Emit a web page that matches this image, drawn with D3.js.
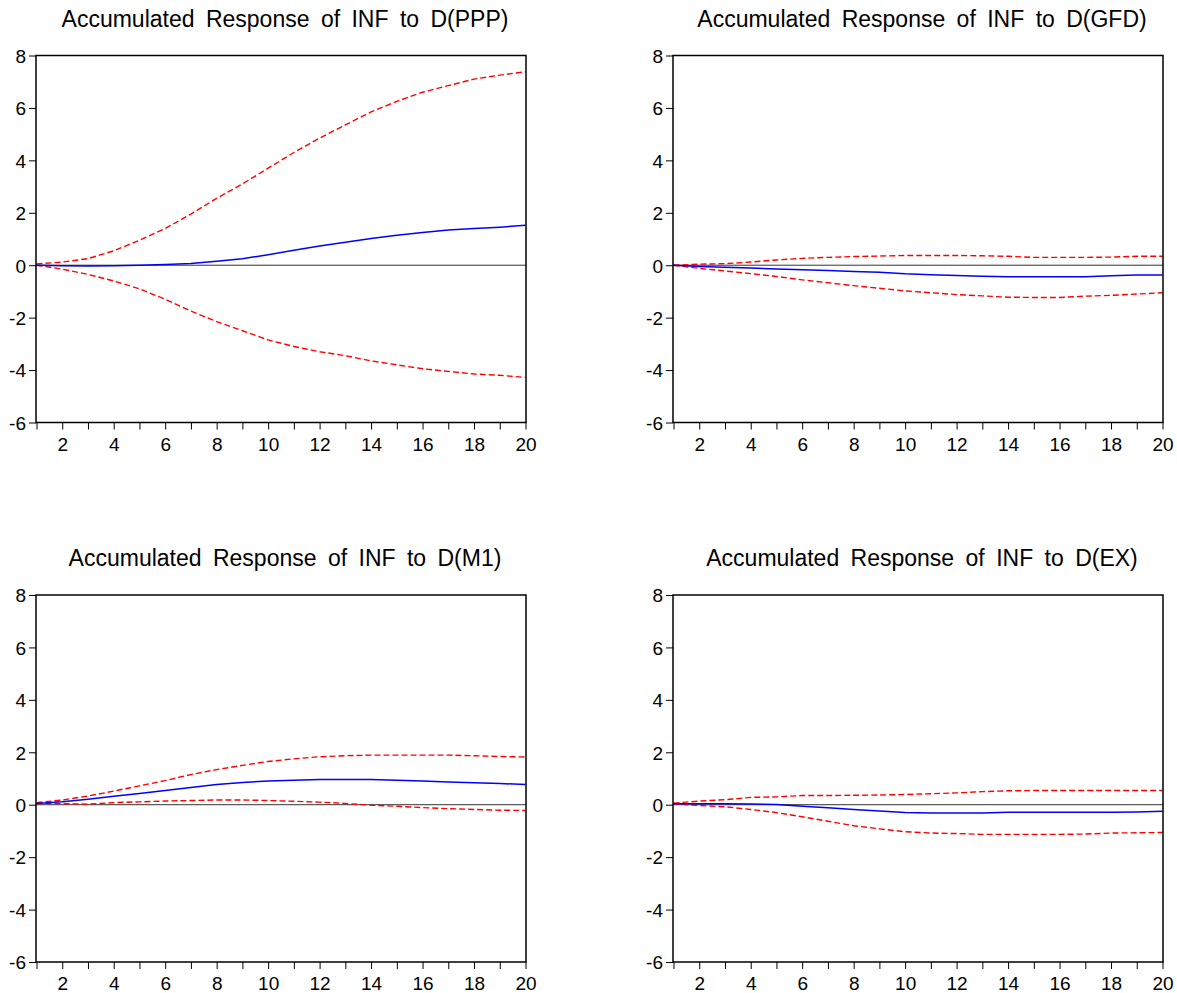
<!DOCTYPE html>
<html>
<head>
<meta charset="utf-8">
<script src="https://cdnjs.cloudflare.com/ajax/libs/d3/7.8.5/d3.min.js"></script>
<style>
  body { margin: 0; background: #fff; }
  text { font-family: "Liberation Sans", Arial, sans-serif; fill: #000; }
</style>
</head>
<body>
<div id="chart"></div>
<script>
'use strict';

// horizon 1..20
const periods = d3.range(1, 21);
const xTickLabels = [2, 4, 6, 8, 10, 12, 14, 16, 18, 20];
const yTicks = [-6, -4, -2, 0, 2, 4, 6, 8];

const titles = [
    'Accumulated Response of INF to D(PPP)',
    'Accumulated Response of INF to D(GFD)',
    'Accumulated Response of INF to D(M1)',
    'Accumulated Response of INF to D(EX)'
];

// D(PPP)
const pppResp  = [0, -0.02, -0.03, -0.02, 0, 0.03, 0.07, 0.15, 0.25, 0.4, 0.57, 0.73, 0.88, 1.02, 1.14, 1.25, 1.34, 1.4, 1.45, 1.52];
const pppUpper = [0.05, 0.12, 0.25, 0.55, 0.95, 1.4, 1.95, 2.55, 3.1, 3.7, 4.3, 4.85, 5.35, 5.85, 6.25, 6.6, 6.85, 7.1, 7.25, 7.38];
const pppLower = [0, -0.15, -0.35, -0.6, -0.9, -1.3, -1.75, -2.15, -2.5, -2.85, -3.1, -3.3, -3.45, -3.65, -3.8, -3.95, -4.05, -4.15, -4.2, -4.28];

// D(GFD)
const gfdResp  = [0, -0.05, -0.08, -0.11, -0.14, -0.17, -0.2, -0.24, -0.27, -0.33, -0.36, -0.39, -0.42, -0.44, -0.44, -0.44, -0.44, -0.4, -0.37, -0.37];
const gfdUpper = [0, 0.04, 0.06, 0.12, 0.2, 0.26, 0.3, 0.33, 0.35, 0.37, 0.37, 0.37, 0.36, 0.34, 0.3, 0.3, 0.3, 0.31, 0.34, 0.34];
const gfdLower = [0, -0.12, -0.22, -0.32, -0.43, -0.56, -0.67, -0.78, -0.88, -0.98, -1.05, -1.12, -1.17, -1.22, -1.23, -1.23, -1.18, -1.15, -1.1, -1.05];

// D(M1)
const m1Resp  = [0.05, 0.11, 0.21, 0.32, 0.43, 0.54, 0.66, 0.77, 0.85, 0.9, 0.93, 0.96, 0.96, 0.96, 0.93, 0.9, 0.87, 0.84, 0.81, 0.77];
const m1Upper = [0.08, 0.18, 0.33, 0.52, 0.72, 0.92, 1.15, 1.34, 1.5, 1.65, 1.75, 1.83, 1.87, 1.89, 1.89, 1.89, 1.89, 1.87, 1.84, 1.82];
const m1Lower = [0.05, 0.04, 0.02, 0.08, 0.11, 0.14, 0.16, 0.18, 0.18, 0.16, 0.13, 0.1, 0.05, -0.02, -0.06, -0.11, -0.15, -0.18, -0.21, -0.22];

// D(EX)
const exResp  = [0.04, 0.04, 0.04, 0.03, 0.01, -0.06, -0.12, -0.18, -0.24, -0.3, -0.32, -0.32, -0.32, -0.29, -0.29, -0.29, -0.29, -0.29, -0.28, -0.25];
const exUpper = [0.06, 0.14, 0.19, 0.28, 0.3, 0.35, 0.35, 0.36, 0.37, 0.39, 0.42, 0.45, 0.5, 0.53, 0.54, 0.54, 0.54, 0.54, 0.54, 0.54];
const exLower = [0.04, -0.03, -0.08, -0.18, -0.3, -0.46, -0.63, -0.8, -0.92, -1.03, -1.08, -1.1, -1.13, -1.13, -1.13, -1.13, -1.12, -1.08, -1.07, -1.06];

const panels = [
    { title: titles[0], resp: pppResp, upper: pppUpper, lower: pppLower },
    { title: titles[1], resp: gfdResp, upper: gfdUpper, lower: gfdLower },
    { title: titles[2], resp: m1Resp,  upper: m1Upper,  lower: m1Lower },
    { title: titles[3], resp: exResp,  upper: exUpper,  lower: exLower }
];

const W = 1177, H = 993;
const lefts = [36, 673];
const tops = [55.5, 595];
const pw = 490, ph = 367;

const svg = d3.select('#chart').append('svg')
    .attr('width', W)
    .attr('height', H);

panels.forEach(function(p, i) {
    let left = lefts[i % 2];
    let top = tops[Math.floor(i / 2)];

    let x = d3.scaleLinear().domain([1, 20]).range([0.5, pw - 0.5]);
    let y = d3.scaleLinear().domain([-6, 8]).range([ph, 0]);

    let g = svg.append('g')
        .attr('transform', 'translate(' + left + ',' + top + ')');

    g.append('text')
        .attr('x', pw / 2 + 4)
        .attr('y', -29)
        .attr('text-anchor', 'middle')
        .style('font-size', '23px')
        .style('word-spacing', '5px')
        .text(p.title);

    // y axis (hyphen minus like the original)
    let yAxis = g.append('g')
        .call(d3.axisLeft(y).tickValues(yTicks).tickSize(7).tickPadding(3).tickFormat((d) => String(d)));
    yAxis.attr('font-size', 19).attr('font-family', '"Liberation Sans", Arial, sans-serif');
    yAxis.select('.domain').remove();
    yAxis.selectAll('line').attr('stroke', '#000');
    yAxis.selectAll('text').style('font-size', '19px').attr('dy', '0.36em');

    // x axis: tick every period, label every other
    let xAxis = g.append('g')
        .attr('transform', 'translate(0,' + ph + ')')
        .call(d3.axisBottom(x).tickValues(periods).tickSize(7).tickPadding(8)
            .tickFormat((d) => (xTickLabels.indexOf(d) >= 0 ? String(d) : '')));
    xAxis.attr('font-size', 19).attr('font-family', '"Liberation Sans", Arial, sans-serif');
    xAxis.select('.domain').remove();
    xAxis.selectAll('line').attr('stroke', '#000');
    xAxis.selectAll('text').style('font-size', '19px');

    // zero line
    g.append('line')
        .attr('x1', 0).attr('x2', pw)
        .attr('y1', y(0)).attr('y2', y(0))
        .attr('stroke', '#333')
        .attr('stroke-width', 1);

    let line = d3.line()
        .x((d, k) => x(periods[k]))
        .y((d) => y(d));

    [p.upper, p.lower].forEach(function(band) {
        g.append('path')
            .datum(band)
            .attr('d', line)
            .attr('fill', 'none')
            .attr('stroke', '#ff0000')
            .attr('stroke-width', 1.4)
            .attr('stroke-dasharray', '6,3');
    });

    g.append('path')
        .datum(p.resp)
        .attr('d', line)
        .attr('fill', 'none')
        .attr('stroke', '#0000ff')
        .attr('stroke-width', 1.5);

    // frame
    g.append('rect')
        .attr('x', 0).attr('y', 0)
        .attr('width', pw).attr('height', ph)
        .attr('fill', 'none')
        .attr('stroke', '#000')
        .attr('stroke-width', 1.5);
});
</script>
</body>
</html>
